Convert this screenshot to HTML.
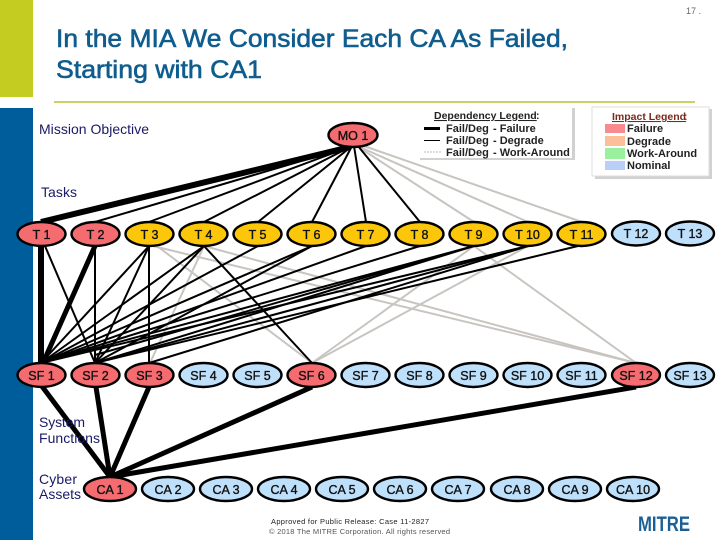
<!DOCTYPE html>
<html><head><meta charset="utf-8"><style>
html,body{margin:0;padding:0;background:#fff}
svg{display:block}
text{font-family:"Liberation Sans",sans-serif}
.n{font-size:12.5px;text-anchor:middle;fill:#111;stroke:#111;stroke-width:.35px}
.l{font-size:14px;fill:#1a1a66}
.b{stroke:#000;stroke-width:2;fill:none}
.t{stroke:#000;stroke-width:6;fill:none}
.g{stroke:#c8c5c0;stroke-width:2;fill:none}
.e{stroke:#000;stroke-width:2.4}
.r{fill:#f46b70}.y{fill:#fcc70a}.u{fill:#bfe0fb}
.lg{font-size:11px;font-weight:bold;fill:#222}
</style></head><body>
<svg width="720" height="540" viewBox="0 0 720 540" xmlns="http://www.w3.org/2000/svg">
<rect width="720" height="540" fill="#fff"/>
<rect x="0" y="0" width="33" height="97" fill="#c4cc22"/>
<rect x="0" y="108" width="33" height="432" fill="#005d9c"/>
<rect x="54" y="101" width="641" height="2" fill="#ccd068"/>
<text x="686" y="14" font-size="9" fill="#666">17 .</text>
<text x="56" y="47" font-size="25" fill="#0f5d8e" stroke="#0f5d8e" stroke-width=".6" textLength="512" lengthAdjust="spacingAndGlyphs">In the MIA We Consider Each CA As Failed,</text>
<text x="56" y="78" font-size="25" fill="#0f5d8e" stroke="#0f5d8e" stroke-width=".6" textLength="206" lengthAdjust="spacingAndGlyphs">Starting with CA1</text>
<text class="l" x="39" y="134" textLength="110">Mission Objective</text>
<text class="l" x="41" y="197" textLength="36">Tasks</text>

<!-- legends -->
<rect x="420" y="108" width="155" height="52" fill="#999" opacity=".45"/>
<rect x="417" y="105" width="155" height="53" fill="#fff"/>
<text x="434" y="119" font-size="10.5" font-weight="bold" fill="#222" text-decoration="underline">Dependency Legend</text><text x="536" y="119" font-size="10.5" font-weight="bold" fill="#222">:</text>
<rect x="424" y="127" width="16" height="3" fill="#000"/>
<rect x="424" y="140" width="16" height="1" fill="#000"/>
<line x1="424" y1="152" x2="441" y2="152" stroke="#bbb" stroke-dasharray="2 1"/>
<text class="lg" x="446" y="132">Fail/Deg</text><text class="lg" x="493" y="132">- Failure</text>
<text class="lg" x="446" y="144">Fail/Deg</text><text class="lg" x="493" y="144">- Degrade</text>
<text class="lg" x="446" y="156">Fail/Deg</text><text class="lg" x="493" y="156">- Work-Around</text>
<rect x="595" y="109" width="117" height="70" fill="#999" opacity=".45"/>
<rect x="592" y="107" width="117" height="69" fill="#fff" stroke="#ddd"/>
<text x="612" y="120" font-size="10.5" font-weight="bold" fill="#7a2a1a" text-decoration="underline">Impact Legend</text><text x="684" y="120" font-size="10.5" font-weight="bold" fill="#555">:</text>
<rect x="605" y="124" width="20" height="9" fill="#f98a8f"/>
<rect x="605" y="136" width="20" height="10" fill="#fbbf99"/>
<rect x="605" y="148" width="20" height="11" fill="#9af09c"/>
<rect x="605" y="161" width="20" height="9" fill="#b8cff8"/>
<text class="lg" x="627" y="132">Failure</text>
<text class="lg" x="627" y="145">Degrade</text>
<text class="lg" x="627" y="157">Work-Around</text>
<text class="lg" x="627" y="169">Nominal</text>

<!-- MO to tasks -->
<g class="g">
<line x1="360" y1="148" x2="474" y2="222"/>
<line x1="362" y1="148" x2="528" y2="222"/>
<line x1="364" y1="146" x2="582" y2="222"/>
</g>
<g class="b">
<line x1="352" y1="146" x2="95" y2="222"/>
<line x1="352" y1="146" x2="149" y2="222"/>
<line x1="352" y1="146" x2="204" y2="222"/>
<line x1="352" y1="146" x2="258" y2="222"/>
<line x1="352" y1="146" x2="312" y2="222"/>
<line x1="354" y1="146" x2="366" y2="222"/>
<line x1="358" y1="146" x2="420" y2="222"/>
</g>
<line class="t" x1="350" y1="147" x2="41" y2="222"/>

<!-- gray tasks to SFs -->
<g class="g">
<line x1="153" y1="246" x2="636" y2="363"/>
<line x1="204" y1="246" x2="636" y2="363"/>
<line x1="474" y1="246" x2="636" y2="363"/>
<line x1="204" y1="246" x2="150" y2="363"/>
<line x1="474" y1="246" x2="312" y2="363"/>
<line x1="528" y1="246" x2="312" y2="363"/>
<line x1="528" y1="246" x2="95" y2="363"/>
<line x1="474" y1="246" x2="95" y2="363"/>
<line x1="157" y1="246" x2="312" y2="363"/>
</g>
<!-- black tasks to SFs -->
<g class="b">
<line x1="45" y1="246" x2="95" y2="363"/>
<line x1="95" y1="246" x2="95" y2="363"/>
<line x1="149" y1="246" x2="149" y2="363"/>
<line x1="149" y1="246" x2="41" y2="363"/>
<line x1="149" y1="246" x2="95" y2="363"/>
<line x1="204" y1="246" x2="41" y2="363"/>
<line x1="204" y1="246" x2="95" y2="363"/>
<line x1="204" y1="246" x2="312" y2="363"/>
<line x1="258" y1="246" x2="41" y2="363"/>
<line x1="312" y1="246" x2="41" y2="363"/>
<line x1="312" y1="246" x2="95" y2="363"/>
<line x1="366" y1="246" x2="41" y2="363"/>
<line x1="420" y1="246" x2="41" y2="363"/>
<line x1="474" y1="246" x2="41" y2="363"/>
<line x1="474" y1="246" x2="95" y2="363"/>
<line x1="474" y1="246" x2="95" y2="355"/>
<line x1="528" y1="246" x2="41" y2="363"/>
<line x1="528" y1="246" x2="95" y2="363"/>
<line x1="528" y1="246" x2="149" y2="363"/>
<line x1="578" y1="246" x2="95" y2="363"/>
</g>
<line x1="41" y1="246" x2="41" y2="365" stroke="#000" stroke-width="6"/>
<line x1="95" y1="246" x2="43" y2="363" stroke="#000" stroke-width="5"/>

<!-- SF to CA -->
<g class="t" style="stroke-width:5">
<line x1="41" y1="385" x2="110" y2="477"/>
<line x1="96" y1="387" x2="110" y2="477"/>
<line x1="149" y1="387" x2="110" y2="477"/>
<line x1="312" y1="387" x2="110" y2="477"/>
<line x1="636" y1="387" x2="110" y2="477"/>
</g>
<text class="l" x="39" y="427" textLength="46">System</text>
<text class="l" x="39" y="443" textLength="61">Functions</text>
<text class="l" x="39" y="484" textLength="38">Cyber</text>
<text class="l" x="39" y="499" textLength="42">Assets</text>

<!-- Nodes -->
<g class="e">
<ellipse class="r" cx="353" cy="135" rx="24.5" ry="12"/>
<ellipse class="r" cx="41.5" cy="234" rx="24" ry="12"/>
<ellipse class="r" cx="95.5" cy="234" rx="24" ry="12"/>
<ellipse class="y" cx="149.5" cy="234" rx="24" ry="12"/>
<ellipse class="y" cx="203.5" cy="234" rx="24" ry="12"/>
<ellipse class="y" cx="257.5" cy="234" rx="24" ry="12"/>
<ellipse class="y" cx="311.5" cy="234" rx="24" ry="12"/>
<ellipse class="y" cx="365.5" cy="234" rx="24" ry="12"/>
<ellipse class="y" cx="419.5" cy="234" rx="24" ry="12"/>
<ellipse class="y" cx="473.5" cy="234" rx="24" ry="12"/>
<ellipse class="y" cx="527.5" cy="234" rx="24" ry="12"/>
<ellipse class="y" cx="581.5" cy="234" rx="24" ry="12"/>
<ellipse class="u" cx="636" cy="233.5" rx="24" ry="12"/>
<ellipse class="u" cx="690" cy="233.5" rx="24" ry="12"/>
<ellipse class="r" cx="41.5" cy="375" rx="24" ry="12"/>
<ellipse class="r" cx="95.5" cy="375" rx="24" ry="12"/>
<ellipse class="r" cx="149.5" cy="375" rx="24" ry="12"/>
<ellipse class="u" cx="203.5" cy="375" rx="24" ry="12"/>
<ellipse class="u" cx="257.5" cy="375" rx="24" ry="12"/>
<ellipse class="r" cx="311.5" cy="375" rx="24" ry="12"/>
<ellipse class="u" cx="365.5" cy="375" rx="24" ry="12"/>
<ellipse class="u" cx="419.5" cy="375" rx="24" ry="12"/>
<ellipse class="u" cx="473.5" cy="375" rx="24" ry="12"/>
<ellipse class="u" cx="527.5" cy="375" rx="24" ry="12"/>
<ellipse class="u" cx="581.5" cy="375" rx="24" ry="12"/>
<ellipse class="r" cx="636" cy="375" rx="24" ry="12"/>
<ellipse class="u" cx="690" cy="375" rx="24" ry="12"/>
<ellipse class="r" cx="110" cy="489" rx="26" ry="12"/>
<ellipse class="u" cx="168" cy="489" rx="26" ry="12"/>
<ellipse class="u" cx="226" cy="489" rx="26" ry="12"/>
<ellipse class="u" cx="284" cy="489" rx="26" ry="12"/>
<ellipse class="u" cx="342" cy="489" rx="26" ry="12"/>
<ellipse class="u" cx="400" cy="489" rx="26" ry="12"/>
<ellipse class="u" cx="458" cy="489" rx="26" ry="12"/>
<ellipse class="u" cx="517" cy="489" rx="26" ry="12"/>
<ellipse class="u" cx="575" cy="489" rx="26" ry="12"/>
<ellipse class="u" cx="633" cy="489" rx="26" ry="12"/>
</g>
<g class="n">
<text x="353" y="140">MO 1</text>
<text x="41.5" y="239">T 1</text><text x="95.5" y="239">T 2</text><text x="149.5" y="239">T 3</text><text x="203.5" y="239">T 4</text><text x="257.5" y="239">T 5</text><text x="311.5" y="239">T 6</text><text x="365.5" y="239">T 7</text><text x="419.5" y="239">T 8</text><text x="473.5" y="239">T 9</text><text x="527.5" y="239">T 10</text><text x="581.5" y="239">T 11</text><text x="636" y="238">T 12</text><text x="690" y="238">T 13</text>
<text x="41.5" y="380">SF 1</text><text x="95.5" y="380">SF 2</text><text x="149.5" y="380">SF 3</text><text x="203.5" y="380">SF 4</text><text x="257.5" y="380">SF 5</text><text x="311.5" y="380">SF 6</text><text x="365.5" y="380">SF 7</text><text x="419.5" y="380">SF 8</text><text x="473.5" y="380">SF 9</text><text x="527.5" y="380">SF 10</text><text x="581.5" y="380">SF 11</text><text x="636" y="380">SF 12</text><text x="690" y="380">SF 13</text>
<text x="110" y="494">CA 1</text><text x="168" y="494">CA 2</text><text x="226" y="494">CA 3</text><text x="284" y="494">CA 4</text><text x="342" y="494">CA 5</text><text x="400" y="494">CA 6</text><text x="458" y="494">CA 7</text><text x="517" y="494">CA 8</text><text x="575" y="494">CA 9</text><text x="633" y="494">CA 10</text>
</g>

<!-- footer -->
<text x="271" y="524" font-size="7.5" fill="#222" textLength="158">Approved for Public Release: Case 11-2827</text>
<text x="269" y="534" font-size="7.5" fill="#555" textLength="181">© 2018 The MITRE Corporation. All rights reserved</text>
<text x="638" y="531" font-size="21" font-weight="bold" fill="#1a5f96" textLength="52" lengthAdjust="spacingAndGlyphs">MITRE</text>
</svg>
</body></html>
